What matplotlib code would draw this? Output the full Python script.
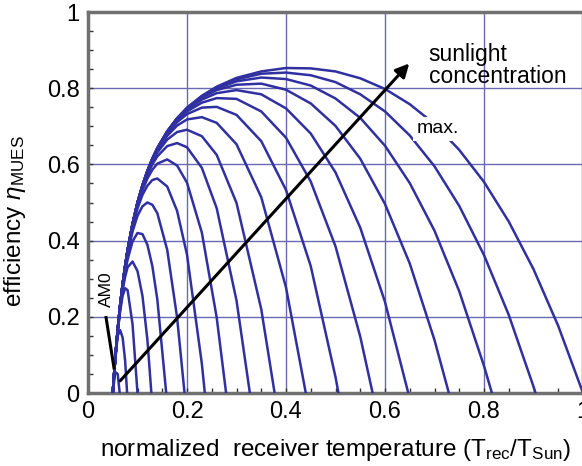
import matplotlib
matplotlib.use('Agg')
import matplotlib.pyplot as plt
from matplotlib.ticker import MultipleLocator

plt.rcParams['font.family'] = ['Liberation Sans', 'DejaVu Sans']
plt.rcParams['mathtext.fontset'] = 'custom'
plt.rcParams['mathtext.rm'] = 'Liberation Sans'
plt.rcParams['mathtext.it'] = 'Liberation Sans:italic'

# ── Data ─────────────────────────────────────────────────────────────────────
# receiver temperature grid (T_rec / T_Sun) shared by all curves
T_GRID = [0.05, 0.055, 0.06, 0.065, 0.07, 0.075, 0.08, 0.09, 0.10, 0.11,
          0.12, 0.13, 0.14, 0.16, 0.18, 0.20, 0.23, 0.26, 0.30, 0.35,
          0.40, 0.45, 0.50, 0.55, 0.60, 0.65, 0.70, 0.75, 0.80, 0.85,
          0.90, 0.95]

# temperature where each curve drops back to zero efficiency
T_ZERO = [0.064, 0.079, 0.100, 0.128, 0.158, 0.195, 0.236, 0.279, 0.327,
          0.377, 0.440, 0.506, 0.575, 0.647, 0.729, 0.816, 0.904, 1.000]

# efficiency on T_GRID (as far as the curve reaches), one row per concentration
ETA = [
    [0, 0.055, 0.050],
    [0, 0.085, 0.150, 0.165, 0.145, 0.085],
    [0, 0.089, 0.160, 0.215, 0.255, 0.275, 0.270, 0.180],
    [0, 0.089, 0.162, 0.222, 0.270, 0.305, 0.330, 0.345, 0.320, 0.255, 0.140],
    [0, 0.090, 0.163, 0.224, 0.275, 0.316, 0.350, 0.398, 0.420, 0.417, 0.389,
     0.333, 0.246],
    [0, 0.090, 0.165, 0.228, 0.281, 0.326, 0.364, 0.424, 0.465, 0.490, 0.500,
     0.494, 0.472, 0.376, 0.198],
    [0, 0.090, 0.166, 0.229, 0.284, 0.330, 0.370, 0.435, 0.484, 0.520, 0.544,
     0.559, 0.563, 0.542, 0.478, 0.363, 0.077],
    [0, 0.091, 0.166, 0.230, 0.285, 0.332, 0.372, 0.440, 0.492, 0.532, 0.563,
     0.586, 0.602, 0.613, 0.597, 0.552, 0.421, 0.198],
    [0, 0.091, 0.167, 0.230, 0.285, 0.332, 0.374, 0.442, 0.496, 0.538, 0.573,
     0.600, 0.621, 0.648, 0.656, 0.645, 0.591, 0.485, 0.243],
    [0, 0.091, 0.167, 0.231, 0.286, 0.333, 0.374, 0.443, 0.498, 0.541, 0.577,
     0.607, 0.631, 0.665, 0.685, 0.691, 0.674, 0.625, 0.499, 0.220],
    [0, 0.091, 0.167, 0.231, 0.286, 0.333, 0.375, 0.444, 0.499, 0.543, 0.580,
     0.611, 0.636, 0.675, 0.702, 0.718, 0.724, 0.709, 0.653, 0.514, 0.277],
    [0, 0.091, 0.167, 0.231, 0.286, 0.333, 0.375, 0.444, 0.499, 0.544, 0.581,
     0.613, 0.639, 0.681, 0.711, 0.732, 0.749, 0.751, 0.730, 0.661, 0.533,
     0.333, 0.042],
    [0, 0.091, 0.167, 0.231, 0.286, 0.333, 0.375, 0.444, 0.500, 0.545, 0.582,
     0.614, 0.641, 0.683, 0.715, 0.739, 0.762, 0.774, 0.772, 0.739, 0.670,
     0.555, 0.385, 0.148],
    [0, 0.091, 0.167, 0.231, 0.286, 0.333, 0.375, 0.444, 0.500, 0.545, 0.583,
     0.614, 0.641, 0.685, 0.718, 0.743, 0.770, 0.787, 0.795, 0.784, 0.747,
     0.681, 0.579, 0.434, 0.239],
    [0, 0.091, 0.167, 0.231, 0.286, 0.333, 0.375, 0.444, 0.500, 0.545, 0.583,
     0.615, 0.642, 0.686, 0.720, 0.746, 0.775, 0.795, 0.809, 0.812, 0.796,
     0.760, 0.701, 0.615, 0.496, 0.340, 0.139],
    [0, 0.091, 0.167, 0.231, 0.286, 0.333, 0.375, 0.444, 0.500, 0.545, 0.583,
     0.615, 0.642, 0.686, 0.721, 0.747, 0.778, 0.799, 0.818, 0.828, 0.824,
     0.807, 0.773, 0.722, 0.649, 0.551, 0.426, 0.267, 0.071],
    [0, 0.091, 0.167, 0.231, 0.286, 0.333, 0.375, 0.444, 0.500, 0.545, 0.583,
     0.615, 0.643, 0.687, 0.721, 0.748, 0.779, 0.802, 0.823, 0.838, 0.841,
     0.834, 0.816, 0.784, 0.739, 0.676, 0.595, 0.491, 0.362, 0.205, 0.017],
    [0, 0.091, 0.167, 0.231, 0.286, 0.333, 0.375, 0.444, 0.500, 0.545, 0.583,
     0.615, 0.643, 0.687, 0.721, 0.749, 0.780, 0.804, 0.827, 0.844, 0.853,
     0.852, 0.844, 0.826, 0.798, 0.758, 0.706, 0.638, 0.554, 0.450, 0.325,
     0.176],
]

# annotation anchors (data units)
ARROW_FROM = (0.065, 0.032)
ARROW_TO = (0.649, 0.865)
AM0_FROM = (0.036, 0.202)
AM0_TO = (0.053, 0.062)

CURVE_COLOR = '#3030a0'
GRID_COLOR = '#6a6ab2'
SPINE_COLOR = '#707070'

fig = plt.figure(figsize=(5.82, 4.66), dpi=100, facecolor='white')
ax = fig.add_axes([88 / 582, 73 / 466, 495 / 582, 381 / 466])

for eta, tz in zip(ETA, T_ZERO):
    xs = T_GRID[:len(eta)] + [tz]
    ys = eta + [0.0]
    ax.plot(xs, ys, color=CURVE_COLOR, lw=1.8, solid_joinstyle='round', zorder=3)

ax.annotate('', xy=ARROW_TO, xytext=ARROW_FROM,
            arrowprops=dict(arrowstyle='-|>', color='black', lw=2.2,
                            mutation_scale=20, shrinkA=0, shrinkB=0),
            zorder=5)
ax.plot([AM0_FROM[0], AM0_TO[0]], [AM0_FROM[1], AM0_TO[1]],
        color='black', lw=2.2, solid_capstyle='butt', zorder=5)

ax.text(0.038, 0.272, 'AM0', rotation=90, fontsize=12.5, ha='center', va='center',
        zorder=6)
ax.text(0.688, 0.918, 'sunlight\nconcentration', fontsize=16.5, ha='left', va='top',
        linespacing=0.95, zorder=6)
ax.text(0.707, 0.693, 'max.', fontsize=14, ha='center', va='center', zorder=6,
        bbox=dict(facecolor='white', edgecolor='none', pad=2.5))

ax.set_xlim(0, 1)
ax.set_ylim(0, 1)
ax.set_xticks([0, 0.2, 0.4, 0.6, 0.8, 1.0])
ax.set_xticklabels(['0', '0.2', '0.4', '0.6', '0.8', '1'])
ax.set_yticks([0, 0.2, 0.4, 0.6, 0.8, 1.0])
ax.set_yticklabels(['0', '0.2', '0.4', '0.6', '0.8', '1'])
ax.xaxis.set_minor_locator(MultipleLocator(0.05))
ax.yaxis.set_minor_locator(MultipleLocator(0.05))
ax.tick_params(which='both', direction='in', length=3.5, width=1,
               color='#333333', top=False, right=False)
ax.tick_params(which='major', labelsize=17, pad=6)
ax.grid(True, which='major', color=GRID_COLOR, lw=1.0, zorder=1)
ax.set_axisbelow(True)

for side in ['left', 'bottom', 'top', 'right']:
    ax.spines[side].set_color(SPINE_COLOR)
    ax.spines[side].set_linewidth(2.5)

ax.set_xlabel('normalized  receiver temperature $(\\mathregular{T_{rec}/T_{Sun}})$',
              fontsize=17.5, labelpad=10)
ax.set_ylabel('efficiency $\\eta_{\\mathregular{MUES}}$', fontsize=17.5)
ax.yaxis.set_label_coords(-0.122, 0.45)

fig.savefig('out.png', dpi=100, facecolor='white')
